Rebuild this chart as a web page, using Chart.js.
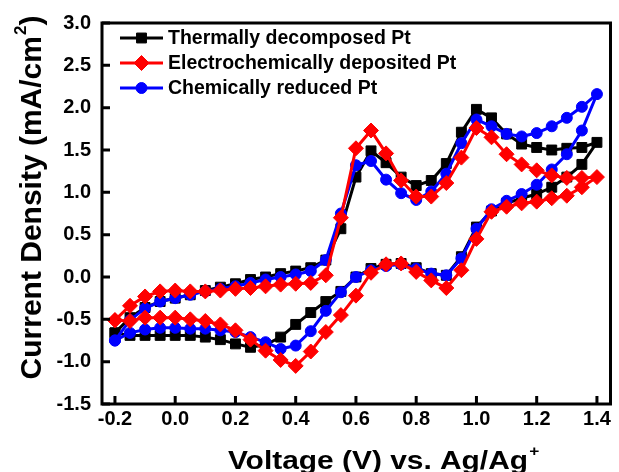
<!DOCTYPE html>
<html>
<head>
<meta charset="utf-8">
<script src="https://cdn.jsdelivr.net/npm/chart.js@4"></script>
<style>
  html, body { margin: 0; padding: 0; background: #fff; }
  #wrap { width: 619px; height: 472px; }
</style>
</head>
<body>
<div id="wrap"><canvas id="cv"></canvas></div>
<script>
// potential sweep: -0.2 V up to 1.4 V and back down
const voltage = [
  -0.2, -0.15, -0.1, -0.05, 0, 0.05, 0.1, 0.15, 0.2, 0.25, 0.3, 0.35, 0.4, 0.45, 0.5, 0.55,
  0.6, 0.65, 0.7, 0.75, 0.8, 0.85, 0.9, 0.95, 1.0, 1.05, 1.1, 1.15, 1.2, 1.25, 1.3, 1.35, 1.4,
  1.35, 1.3, 1.25, 1.2, 1.15, 1.1, 1.05, 1.0, 0.95, 0.9, 0.85, 0.8, 0.75, 0.7, 0.65, 0.6,
  0.55, 0.5, 0.45, 0.4, 0.35, 0.3, 0.25, 0.2, 0.15, 0.1, 0.05, 0, -0.05, -0.1, -0.15, -0.2
]

const thermal = [
  -0.66, -0.48, -0.36, -0.29, -0.25, -0.21, -0.16, -0.12, -0.08, -0.03, 0.0, 0.04, 0.07, 0.11, 0.20, 0.57,
  1.18, 1.49, 1.35, 1.18, 1.08, 1.14, 1.34, 1.71, 1.98, 1.88, 1.69, 1.57, 1.53, 1.50, 1.52, 1.53, 1.59,
  1.33, 1.18, 1.06, 0.98, 0.93, 0.87, 0.78, 0.59, 0.24, 0.02, 0.04, 0.11, 0.16, 0.15, 0.10, 0.0,
  -0.17, -0.29, -0.42, -0.56, -0.71, -0.80, -0.83, -0.79, -0.74, -0.71, -0.69, -0.69, -0.69, -0.69, -0.69, -0.66
]

const electro = [
  -0.51, -0.34, -0.23, -0.17, -0.16, -0.17, -0.17, -0.16, -0.14, -0.13, -0.11, -0.09, -0.08, -0.07, 0.02, 0.70,
  1.52, 1.73, 1.46, 1.14, 0.95, 0.95, 1.11, 1.41, 1.76, 1.65, 1.45, 1.33, 1.26, 1.20, 1.17, 1.17, 1.18,
  1.06, 0.96, 0.93, 0.89, 0.87, 0.83, 0.77, 0.45, 0.08, -0.13, -0.04, 0.06, 0.16, 0.15, 0.05, -0.22,
  -0.45, -0.65, -0.88, -1.05, -0.98, -0.87, -0.74, -0.63, -0.56, -0.52, -0.50, -0.48, -0.48, -0.48, -0.52, -0.51
]

const chemical = [
  -0.75, -0.51, -0.37, -0.29, -0.25, -0.21, -0.17, -0.14, -0.11, -0.07, -0.03, 0.0, 0.03, 0.07, 0.20, 0.75,
  1.32, 1.37, 1.15, 0.99, 0.91, 1.01, 1.22, 1.58, 1.86, 1.78, 1.69, 1.66, 1.70, 1.78, 1.88, 2.01, 2.16,
  1.73, 1.45, 1.27, 1.09, 0.98, 0.90, 0.80, 0.57, 0.22, 0.02, 0.04, 0.10, 0.15, 0.13, 0.08, 0.0,
  -0.18, -0.40, -0.64, -0.81, -0.85, -0.77, -0.71, -0.65, -0.63, -0.61, -0.61, -0.60, -0.60, -0.62, -0.66, -0.75
]

const xTicks = [-0.2, 0.0, 0.2, 0.4, 0.6, 0.8, 1.0, 1.2, 1.4]
const yTicks = [-1.5, -1.0, -0.5, 0.0, 0.5, 1.0, 1.5, 2.0, 2.5, 3.0]

const series = [
  { label: "Thermally decomposed Pt", data: thermal, color: "#000000", style: "rect", radius: 7 },
  { label: "Electrochemically deposited Pt", data: electro, color: "#ff0000", style: "rectRot", radius: 7.5 },
  { label: "Chemically reduced Pt", data: chemical, color: "#0000ff", style: "circle", radius: 5.5 }
]

const FONT = "'Liberation Sans', Arial, sans-serif"

function toPoints(values) {
  return values.map((j, i) => ({ x: voltage[i], y: j }))
}

// draws a string followed by a raised superscript, then an optional tail
function drawSup(ctx, parts, x, y, size) {
  const main = `bold ${size}px ${FONT}`
  const small = `bold ${Math.round(size * 0.58)}px ${FONT}`
  ctx.font = main
  const w1 = ctx.measureText(parts[0]).width
  ctx.font = small
  const w2 = ctx.measureText(parts[1]).width
  ctx.font = main
  const w3 = parts[2] ? ctx.measureText(parts[2]).width : 0
  let cx = x - (w1 + w2 + w3) / 2
  ctx.textAlign = "left"
  ctx.textBaseline = "alphabetic"
  ctx.fillText(parts[0], cx, y)
  cx += w1
  ctx.font = small
  ctx.fillText(parts[1], cx + 1, y - size * 0.5)
  cx += w2 + 1
  if (parts[2]) {
    ctx.font = main
    ctx.fillText(parts[2], cx, y)
  }
}

const framePlugin = {
  id: "frame",
  afterDatasetsDraw(chart) {
    const { ctx, chartArea: a, scales } = chart
    ctx.save()
    ctx.strokeStyle = "#000"
    ctx.lineWidth = 3
    ctx.strokeRect(a.left, a.top, a.right - a.left, a.bottom - a.top)

    // inward tick marks on the bottom and left axes
    ctx.beginPath()
    xTicks.forEach(v => {
      const px = scales.x.getPixelForValue(v)
      ctx.moveTo(px, a.bottom)
      ctx.lineTo(px, a.bottom - 8)
    })
    yTicks.forEach(v => {
      const py = scales.y.getPixelForValue(v)
      ctx.moveTo(a.left, py)
      ctx.lineTo(a.left + 8, py)
    })
    ctx.stroke()

    // legend in the upper left corner
    ctx.font = `bold 19.5px ${FONT}`
    ctx.textAlign = "left"
    ctx.textBaseline = "middle"
    series.forEach((s, i) => {
      const y = 38 + i * 25
      ctx.strokeStyle = s.color
      ctx.lineWidth = 3
      ctx.beginPath()
      ctx.moveTo(120, y)
      ctx.lineTo(163, y)
      ctx.stroke()
      ctx.fillStyle = s.color
      ctx.strokeStyle = s.color
      ctx.lineWidth = 1
      Chart.helpers.drawPoint(ctx, { pointStyle: s.style, radius: s.radius, borderWidth: 1 }, 141.5, y)
      ctx.fillStyle = "#000"
      ctx.fillText(s.label, 168, y + 1)
    })

    // axis titles; the x title is set a little wider than normal
    ctx.fillStyle = "#000"
    ctx.save()
    ctx.translate(383, 469)
    ctx.scale(1.15, 1)
    drawSup(ctx, ["Voltage (V) vs. Ag/Ag", "+"], 0, 0, 26)
    ctx.restore()
    ctx.save()
    ctx.translate(41, 198)
    ctx.rotate(-Math.PI / 2)
    drawSup(ctx, ["Current Density (mA/cm", "2", ")"], 0, 0, 30)
    ctx.restore()
    ctx.restore()
  }
}

// red on top, blue under it, black at the bottom
const drawOrder = { 0: 3, 1: 1, 2: 2 }

new Chart(document.getElementById("cv"), {
  type: "scatter",
  data: {
    datasets: series.map((s, i) => ({
      label: s.label,
      data: toPoints(s.data),
      showLine: true,
      order: drawOrder[i],
      borderColor: s.color,
      backgroundColor: s.color,
      borderWidth: 3,
      pointStyle: s.style,
      pointRadius: s.radius,
      pointBorderWidth: 1,
      pointBackgroundColor: s.color,
      pointBorderColor: s.color,
      tension: 0
    }))
  },
  options: {
    animation: false,
    responsive: true,
    maintainAspectRatio: false,
    layout: { padding: { top: 21, right: 2, left: 0, bottom: 0 } },
    plugins: {
      legend: { display: false },
      tooltip: { enabled: false }
    },
    scales: {
      x: {
        type: "linear",
        min: -0.243,
        max: 1.445,
        afterBuildTicks: (s) => { s.ticks = xTicks.map(v => ({ value: v })) },
        afterFit: (s) => { s.height = 68 },
        grid: { display: false, drawTicks: false },
        border: { display: false },
        ticks: {
          padding: 3,
          autoSkip: false,
          maxRotation: 0,
          color: "#000",
          font: { family: FONT, size: 20, weight: "bold" },
          callback: (v) => v.toFixed(1)
        }
      },
      y: {
        type: "linear",
        min: -1.5,
        max: 3.0,
        afterBuildTicks: (s) => { s.ticks = yTicks.map(v => ({ value: v })) },
        afterFit: (s) => { s.width = 102 },
        grid: { display: false, drawTicks: false },
        border: { display: false },
        ticks: {
          padding: 11,
          autoSkip: false,
          color: "#000",
          font: { family: FONT, size: 20, weight: "bold" },
          callback: (v) => v.toFixed(1)
        }
      }
    }
  },
  plugins: [framePlugin]
})
</script>
</body>
</html>
